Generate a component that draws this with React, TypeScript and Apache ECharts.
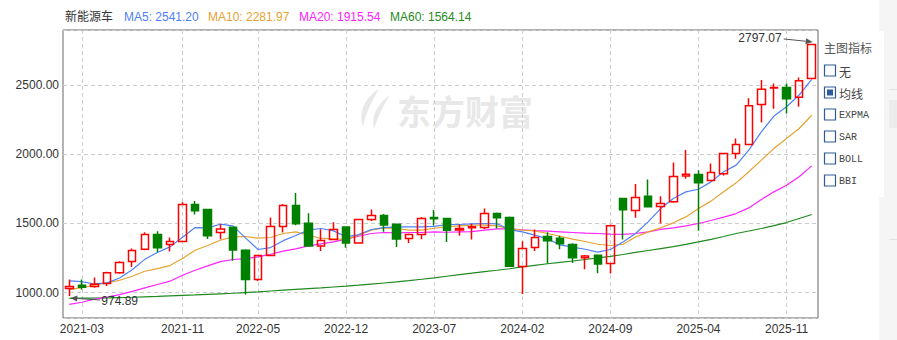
import React, { useEffect, useRef } from "react";
import * as echarts from "echarts";

const months = [
  "2021-02","2021-03","2021-04","2021-05","2021-06","2021-07","2021-08","2021-09","2021-10","2021-11","2021-12",
  "2022-01","2022-02","2022-03","2022-04","2022-05","2022-06","2022-07","2022-08","2022-09","2022-10","2022-11","2022-12",
  "2023-01","2023-02","2023-03","2023-04","2023-05","2023-06","2023-07","2023-08","2023-09","2023-10","2023-11","2023-12",
  "2024-01","2024-02","2024-03","2024-04","2024-05","2024-06","2024-07","2024-08","2024-09","2024-10","2024-11","2024-12",
  "2025-01","2025-02","2025-03","2025-04","2025-05","2025-06","2025-07","2025-08","2025-09","2025-10","2025-11","2025-12",
  "2026-01"
];

// [open, close, low, high]
const ohlc = [
  [1029, 1043, 974.89, 1094], [1053, 1038, 1022, 1094], [1043, 1060, 1034, 1108], [1065, 1144, 1048, 1150],
  [1144, 1217, 1135, 1226], [1224, 1304, 1185, 1318], [1313, 1419, 1306, 1436], [1419, 1323, 1294, 1444],
  [1347, 1369, 1296, 1398], [1369, 1637, 1364, 1653], [1637, 1591, 1564, 1661], [1600, 1410, 1388, 1602],
  [1434, 1460, 1386, 1494], [1472, 1308, 1229, 1475], [1306, 1094, 985, 1313], [1094, 1268, 1084, 1270],
  [1268, 1477, 1265, 1542], [1477, 1629, 1434, 1641], [1629, 1497, 1487, 1719], [1501, 1337, 1335, 1574],
  [1337, 1376, 1301, 1458], [1383, 1456, 1380, 1509], [1473, 1359, 1323, 1476], [1359, 1528, 1352, 1532],
  [1528, 1557, 1518, 1600], [1557, 1489, 1439, 1567], [1494, 1388, 1330, 1497], [1391, 1419, 1359, 1427],
  [1419, 1535, 1386, 1547], [1542, 1533, 1485, 1596], [1535, 1451, 1366, 1538], [1453, 1463, 1410, 1492],
  [1468, 1475, 1383, 1497], [1470, 1571, 1460, 1608], [1571, 1540, 1463, 1579], [1542, 1190, 1188, 1550],
  [1188, 1318, 990, 1371], [1325, 1398, 1301, 1456], [1405, 1374, 1210, 1436], [1393, 1352, 1313, 1410],
  [1347, 1251, 1214, 1357], [1251, 1265, 1169, 1272], [1270, 1207, 1140, 1272], [1210, 1482, 1137, 1492],
  [1680, 1598, 1383, 1682], [1593, 1687, 1540, 1784], [1697, 1620, 1620, 1817], [1622, 1644, 1499, 1697],
  [1656, 1839, 1649, 1940], [1842, 1856, 1822, 2030], [1854, 1793, 1446, 1885], [1810, 1868, 1808, 1933],
  [1858, 2006, 1846, 2008], [2006, 2071, 1967, 2114], [2071, 2350, 2068, 2404], [2360, 2469, 2230, 2536],
  [2478, 2483, 2329, 2512], [2483, 2401, 2295, 2512], [2411, 2531, 2343, 2555], [2548, 2794, 2545, 2797.07]
];

const ma5 = [
  1084, 1079, 1062, 1070, 1105, 1165, 1240, 1290, 1330, 1400, 1470, 1468, 1494, 1482, 1395, 1311,
  1325, 1375, 1412, 1451, 1463, 1446, 1403, 1419, 1456, 1470, 1475, 1475, 1475, 1478, 1492, 1492,
  1497, 1499, 1497, 1455, 1439, 1415, 1388, 1345, 1328, 1313, 1292, 1311, 1365, 1427, 1511, 1607,
  1680, 1728, 1747, 1800, 1873, 1921, 2030, 2162, 2276, 2343, 2428, 2541.2
];
const ma10 = [
  1021, 1036, 1053, 1070, 1089, 1118, 1154, 1173, 1195, 1246, 1306, 1340, 1378, 1403, 1405, 1393,
  1398, 1427, 1439, 1415, 1391, 1388, 1386, 1415, 1451, 1468, 1463, 1451, 1451, 1465, 1477, 1482,
  1487, 1487, 1482, 1460, 1451, 1446, 1427, 1407, 1386, 1369, 1349, 1340, 1349, 1402, 1439, 1468,
  1504, 1547, 1608, 1661, 1728, 1793, 1873, 1957, 2042, 2114, 2186, 2281.97
];
const ma20 = [
  915, 930, 952, 968, 985, 1009, 1034, 1058, 1082, 1125, 1161, 1193, 1224, 1239, 1245, 1258,
  1277, 1299, 1316, 1337, 1352, 1366, 1386, 1407, 1427, 1434, 1431, 1434, 1434, 1439, 1436, 1438,
  1441, 1451, 1460, 1460, 1453, 1448, 1444, 1439, 1434, 1429, 1427, 1422, 1420, 1427, 1439, 1456,
  1468, 1482, 1499, 1521, 1545, 1571, 1612, 1673, 1728, 1776, 1837, 1915.54
];
const ma60 = [
  958, 959, 960, 962, 964, 966, 969, 972, 976, 980, 983, 987, 991, 995, 1000, 1005,
  1011, 1017, 1023, 1029, 1034, 1040, 1046, 1053, 1061, 1069, 1077, 1086, 1096, 1106, 1118, 1129,
  1140, 1151, 1161, 1172, 1185, 1197, 1208, 1218, 1228, 1239, 1250, 1262, 1275, 1290, 1304, 1318,
  1332, 1348, 1366, 1385, 1405, 1427, 1445, 1463, 1484, 1506, 1535, 1564.14
];

const labelIdx = [1, 9, 15, 22, 29, 36, 43, 50, 57];
const stockName = "新能源车";
const panelTitle = "主图指标";
const indicatorItems = ["无", "均线", "EXPMA", "SAR", "BOLL", "BBI"];
const checkedItem = "均线";

const C_MA5 = "#4f80fa";
const C_MA10 = "#e6a232";
const C_MA20 = "#ff22ff";
const C_MA60 = "#1f8a1f";
const C_UP = "#ff0000";
const C_DOWN = "#008000";

const LOGO_D =
  "M22 0 C 8 9, 1 22, 6 38 C 8 27, 13 15, 22 0 Z M 33 6 C 20 15, 14 27, 17 40 C 20 30, 25 19, 33 6 Z";

let registered = false;
function ensureLogo() {
  if (registered) return;
  registered = true;
  echarts.graphic.registerShape("logo", echarts.graphic.extendPath(LOGO_D, {}));
}

function arrow(from: number[], to: number[], color: string) {
  const dx = to[0] - from[0];
  const dy = to[1] - from[1];
  const len = Math.sqrt(dx * dx + dy * dy) || 1;
  const ux = dx / len;
  const uy = dy / len;
  const bx = to[0] - ux * 7;
  const by = to[1] - uy * 7;
  const px = -uy * 3;
  const py = ux * 3;
  return [
    {
      type: "line",
      shape: { x1: from[0], y1: from[1], x2: bx, y2: by },
      style: { stroke: color, lineWidth: 1 },
      z: 100,
    },
    {
      type: "polygon",
      shape: { points: [[to[0], to[1]], [bx + px, by + py], [bx - px, by - py]] },
      style: { fill: color },
      z: 100,
    },
  ];
}

function txt(x: number, y: number, text: string, fill: string, font: string, align = "left", z = 100) {
  return {
    type: "text",
    x,
    y,
    z,
    style: {
      text,
      fill,
      font,
      textAlign: align,
      align,
      textVerticalAlign: "middle",
      verticalAlign: "middle",
    },
  };
}

export default function App() {
  const ref = useRef<HTMLDivElement>(null);

  useEffect(() => {
    if (!ref.current) return;
    ensureLogo();
    const chart = echarts.init(ref.current, undefined, { renderer: "svg" });

    const option: any = {
      animation: false,
      backgroundColor: "#ffffff",
      grid: {
        left: 63,
        top: 30,
        right: 79,
        bottom: 22,
        show: true,
        borderColor: "#666666",
        borderWidth: 1,
        backgroundColor: "transparent",
        containLabel: false,
        outerBoundsMode: "none",
      },
      xAxis: {
        type: "category",
        data: months,
        boundaryGap: true,
        axisLine: { show: false },
        axisTick: { show: false },
        axisLabel: {
          interval: (i: number) => labelIdx.includes(i),
          color: "#333333",
          fontSize: 12,
          margin: 5,
          fontFamily: "Liberation Sans, Arial, sans-serif",
        },
        splitLine: {
          show: true,
          alignWithLabel: true,
          interval: (i: number) => labelIdx.includes(i),
          lineStyle: { color: "#cccccc", type: [4, 3], width: 1 },
        },
      },
      yAxis: {
        type: "value",
        min: 816,
        max: 2898,
        splitNumber: 5,
        axisLine: { show: false },
        axisTick: { show: false },
        axisLabel: {
          formatter: (v: number) => v.toFixed(2),
          showMinLabel: false,
          showMaxLabel: false,
          color: "#333333",
          fontSize: 12,
          margin: 4,
          fontFamily: "Liberation Sans, Arial, sans-serif",
        },
        splitLine: {
          show: true,
          lineStyle: { color: "#cccccc", type: [4, 3], width: 1 },
        },
      },
      series: [
        { name: "MA60", type: "line", data: ma60, symbol: "none", lineStyle: { color: C_MA60, width: 1.2 }, z: 2 },
        { name: "MA20", type: "line", data: ma20, symbol: "none", lineStyle: { color: C_MA20, width: 1.2 }, z: 2 },
        { name: "MA10", type: "line", data: ma10, symbol: "none", lineStyle: { color: C_MA10, width: 1.2 }, z: 2 },
        { name: "MA5", type: "line", data: ma5, symbol: "none", lineStyle: { color: C_MA5, width: 1.2 }, z: 2 },
        {
          name: stockName,
          type: "candlestick",
          data: ohlc,
          barWidth: 8,
          z: 3,
          itemStyle: {
            color: "transparent",
            color0: C_DOWN,
            borderColor: C_UP,
            borderColor0: C_DOWN,
            borderWidth: 1.5,
          },
        },
      ],
    };
    chart.setOption(option);

    // annotation positions derived from the data through the chart's scales
    let hiIdx = 0;
    let loIdx = 0;
    ohlc.forEach((d, i) => {
      if (d[3] > ohlc[hiIdx][3]) hiIdx = i;
      if (d[2] < ohlc[loIdx][2]) loIdx = i;
    });
    const hiVal = ohlc[hiIdx][3];
    const loVal = ohlc[loIdx][2];
    const pHi = chart.convertToPixel({ gridIndex: 0 }, [months[hiIdx], hiVal]) as number[];
    const pLo = chart.convertToPixel({ gridIndex: 0 }, [months[loIdx], loVal]) as number[];

    const font12 = "12px 'Liberation Sans', Arial, 'Noto Sans CJK SC', sans-serif";
    const graphics: any[] = [];

    // watermark
    graphics.push({
      type: "logo",
      x: 357,
      y: 89,
      scaleX: 1.0,
      scaleY: 1.0,
      z: -10,
      style: { fill: "#e8e8e8" },
    });
    graphics.push({
      type: "text",
      x: 397,
      y: 110,
      z: -10,
      style: {
        text: "东方财富",
        fill: "#e8e8e8",
        font: "bold 34px 'Noto Sans CJK SC', sans-serif",
        textVerticalAlign: "middle",
        verticalAlign: "middle",
      },
    });

    // header legend
    const last = ma5.length - 1;
    graphics.push(txt(65, 17, stockName, "#333333", font12));
    graphics.push(txt(124, 17, `MA5: ${ma5[last].toFixed(2)}`, C_MA5, font12));
    graphics.push(txt(208, 17, `MA10: ${ma10[last].toFixed(2)}`, C_MA10, font12));
    graphics.push(txt(299, 17, `MA20: ${ma20[last].toFixed(2)}`, C_MA20, font12));
    graphics.push(txt(390, 17, `MA60: ${ma60[last].toFixed(2)}`, C_MA60, font12));

    // max / min markers
    const hiTip = [pHi[0] + 1, pHi[1] - 2];
    graphics.push(...arrow([pHi[0] - 28, pHi[1] - 5], hiTip, "#555555"));
    graphics.push(txt(pHi[0] - 30, pHi[1] - 6, hiVal.toFixed(2), "#333333", font12, "right"));
    const loTip = [pLo[0] + 1, pLo[1] + 2];
    graphics.push(...arrow([pLo[0] + 31, pLo[1] + 4], loTip, "#555555"));
    graphics.push(txt(pLo[0] + 32, pLo[1] + 5, loVal.toFixed(2), "#333333", font12));

    // right side page chrome
    graphics.push({ type: "rect", shape: { x: 879, y: 0, width: 18, height: 340 }, style: { fill: "#f5f5f5" }, z: 50 });
    graphics.push({ type: "rect", shape: { x: 819, y: 31, width: 65, height: 166 }, style: { fill: "#ffffff" }, z: 51 });
    graphics.push({ type: "line", shape: { x1: 889, y1: 89.5, x2: 897, y2: 89.5 }, style: { stroke: "#e2e2e2", lineWidth: 1 }, z: 51 });
    graphics.push({ type: "rect", shape: { x: 889, y: 100, width: 8, height: 28 }, style: { fill: "#ececec" }, z: 51 });
    graphics.push({ type: "line", shape: { x1: 889, y1: 239.5, x2: 897, y2: 239.5 }, style: { stroke: "#e2e2e2", lineWidth: 1 }, z: 51 });

    // indicator panel
    graphics.push(txt(824, 47, panelTitle, "#555555", "12px 'Noto Sans CJK SC', sans-serif", "left", 60));
    indicatorItems.forEach((name, i) => {
      const cy = 71 + i * 22;
      graphics.push({
        type: "rect",
        shape: { x: 824.5, y: cy - 6, width: 11, height: 11 },
        style: { fill: "#ffffff", stroke: "#2d5a98", lineWidth: 1.2 },
        z: 60,
      });
      if (name === checkedItem) {
        graphics.push({
          type: "rect",
          shape: { x: 827, y: cy - 3.5, width: 6, height: 6 },
          style: { fill: "#2d5a98" },
          z: 61,
        });
      }
      const isLatin = /^[A-Z]+$/.test(name);
      graphics.push(
        txt(
          839,
          cy,
          name,
          "#444444",
          isLatin ? "10px 'Liberation Mono', monospace" : "12px 'Noto Sans CJK SC', sans-serif",
          "left",
          60
        )
      );
    });

    chart.setOption({ graphic: { elements: graphics } });

    return () => chart.dispose();
  }, []);

  return (
    <div
      ref={ref}
      style={{ position: "absolute", left: 0, top: 0, width: 897, height: 340, background: "#ffffff" }}
    />
  );
}
